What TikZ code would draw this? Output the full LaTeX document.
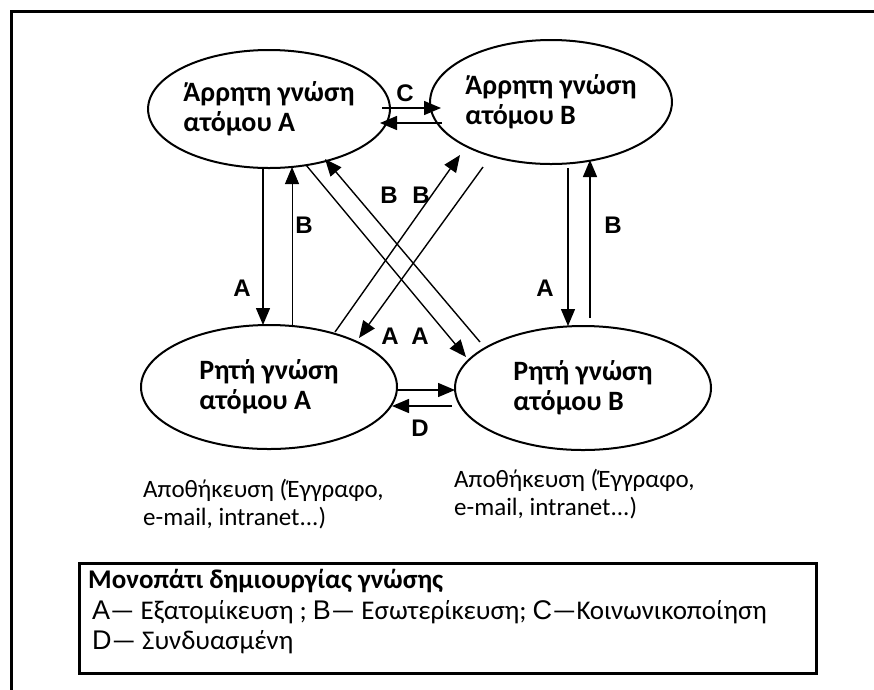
\documentclass[tikz,border=0pt]{standalone}
\usepackage{fontspec}
\setmainfont{Carlito}
\newfontfamily\arialf{Liberation Sans}
\usetikzlibrary{arrows.meta,shapes.geometric}
\begin{document}
\begin{tikzpicture}[x=1pt,y=-1pt,
 ell/.style={ellipse,draw,line width=2pt,inner sep=0pt,align=left,font=\fontsize{28}{30}\selectfont\bfseries},
 arr/.style={line width=1.4pt,-{Triangle[length=17pt,width=14pt]}},
 lab/.style={font=\arialf\fontsize{24}{26}\selectfont\bfseries,inner sep=0pt},
 store/.style={font=\fontsize{25}{28}\selectfont,align=left,inner sep=0pt,anchor=west},
 leg/.style={font=\fontsize{27}{30}\selectfont,inner sep=0pt,anchor=west}]
\useasboundingbox (0,0) rectangle (874,689);
\fill[white] (0,0) rectangle (874,689);
\draw[line width=3pt] (11,700) -- (11,11) -- (890,11);
% ellipses
\node[ell,minimum width=226pt,minimum height=118pt] (ta) at (269,109) {Άρρητη γνώση\\ατόμου A};
\node[ell,minimum width=222pt,minimum height=124pt] (tb) at (551,102) {Άρρητη γνώση\\ατόμου B};
\node[ell,minimum width=256pt,minimum height=124pt] (ra) at (269,387) {Ρητή γνώση\\ατόμου A};
\node[ell,minimum width=256pt,minimum height=124pt] (rb) at (583,388) {Ρητή γνώση\\ατόμου B};
% left verticals
\draw[arr] ([shift={(-6,59)}]ta.center) -- ([shift={(-6,-62)}]ra.center);
\draw[arr,line width=1pt] ([shift={(23,-61)}]ra.center) -- ([shift={(23,58)}]ta.center);
% right verticals
\draw[arr] ([shift={(17,66)}]tb.center) -- ([shift={(-15,-62)}]rb.center);
\draw[arr] ([shift={(7,-70)}]rb.center) -- ([shift={(39,58)}]tb.center);
% C
\draw[arr] ([shift={(113,-1)}]ta.center) -- ([shift={(-110,6)}]tb.center);
\draw[arr] ([shift={(-109,21)}]tb.center) -- ([shift={(111,14)}]ta.center);
% D
\draw[arr] ([shift={(128,3)}]ra.center) -- ([shift={(-128,2)}]rb.center);
\draw[arr] ([shift={(-131,18)}]rb.center) -- ([shift={(123,19)}]ra.center);
% diagonals
\draw[arr] ([shift={(37,56)}]ta.center) -- ([shift={(-117,-31)}]rb.center);
\draw[arr] ([shift={(-103,-46)}]rb.center) -- ([shift={(56,50)}]ta.center);
\draw[arr] ([shift={(66,-55)}]ra.center) -- ([shift={(-91,53)}]tb.center);
\draw[arr] ([shift={(-68,65)}]tb.center) -- ([shift={(90,-49)}]ra.center);
% labels
\node[lab] (lC) at (405,93) {C};
\node[lab] (lD) at (420,428) {D};
\node[lab] (lBl) at (304,225) {B};
\node[lab] (lAl) at (242,288) {A};
\node[lab] (lBr) at (613,225) {B};
\node[lab] (lAr) at (545,288) {A};
\node[lab] (lB1) at (389,195) {B};
\node[lab] (lB2) at (421,195) {B};
\node[lab] (lA1) at (390,336) {A};
\node[lab] (lA2) at (420,336) {A};
% storage
\node[store] (sa) at (143,504) {Αποθήκευση (Έγγραφο,\\e-mail, intranet...)};
\node[store] (sb) at (454,494) {Αποθήκευση (Έγγραφο,\\e-mail, intranet...)};
% legend
\node[draw,line width=2.5pt,minimum width=737pt,minimum height=110pt,anchor=north west,inner sep=0pt] (legend) at (78,562) {};
\node[leg,font=\fontsize{27}{30}\selectfont\bfseries] (lt) at (88,581) {Μονοπάτι δημιουργίας γνώσης};
\node[leg] (l1) at (92,612) {{\arialf A}— Εξατομίκευση ; {\arialf B}— Εσωτερίκευση; {\arialf C}—Κοινωνικοποίηση};
\node[leg] (l2) at (92,642) {{\arialf D}— Συνδυασμένη};
\end{tikzpicture}
\end{document}
